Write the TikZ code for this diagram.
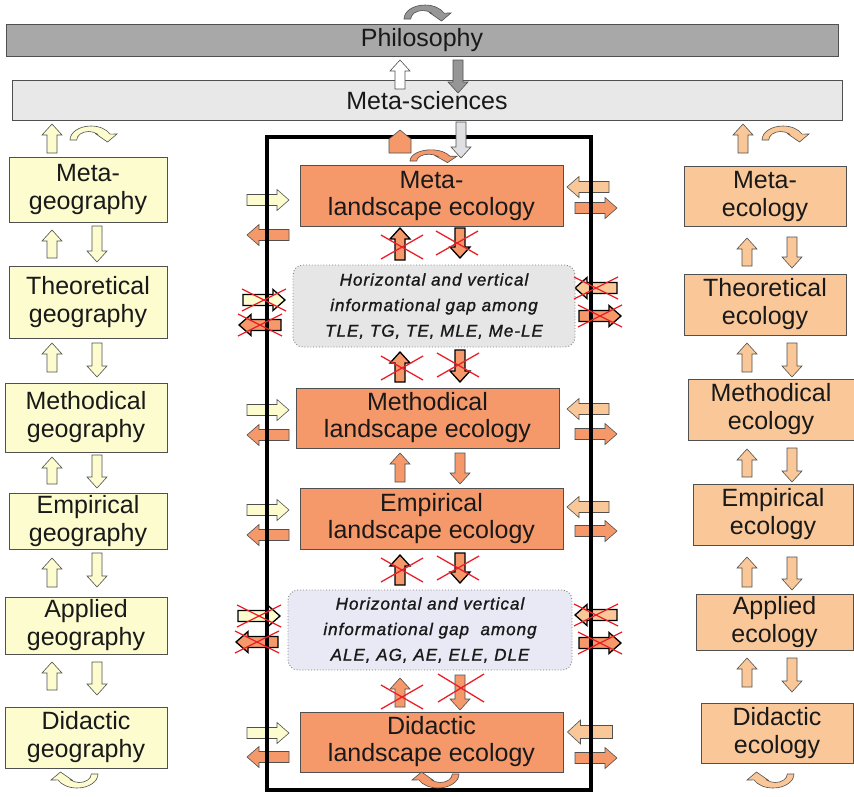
\documentclass[tikz,border=0pt]{standalone}
\usepackage{fontspec}
\setmainfont{Liberation Sans}
\newfontfamily\gapfont[LetterSpace=6,FakeBold=1.2]{Liberation Sans}
\definecolor{philgray}{RGB}{168,168,168}
\definecolor{metagray}{RGB}{232,232,232}
\definecolor{leorange}{RGB}{245,152,106}
\definecolor{geoyellow}{RGB}{252,252,206}
\definecolor{ecopeach}{RGB}{250,200,152}
\definecolor{gapgray}{RGB}{230,230,230}
\definecolor{gaplav}{RGB}{233,233,245}
\definecolor{edgegray}{RGB}{80,80,80}
\definecolor{txtcol}{RGB}{25,25,25}
\definecolor{crossred}{RGB}{236,30,40}
\definecolor{arrgray}{RGB}{150,150,150}
\definecolor{arrlight}{RGB}{224,224,228}
\newcommand\blockarr[8]{%
  \begin{scope}[shift={(#1,#2)},rotate=#3]
  \draw[#8] ({-(#4)/2},-#5) -- ({(#4)/2-(#7)},-#5) -- ({(#4)/2-(#7)},-#6) -- ({(#4)/2},0)
     -- ({(#4)/2-(#7)},#6) -- ({(#4)/2-(#7)},#5) -- ({-(#4)/2},#5) -- cycle;
  \end{scope}}
% vertical arrows: x, ytop, ybottom, angle, style
\newcommand\varr[5]{%
  \pgfmathsetmacro\arcy{(#2+#3)/2}\pgfmathsetmacro\arlen{#3-#2}%
  \blockarr{#1}{\arcy}{#4}{\arlen}{5}{10}{11}{#5}}
% horizontal arrows: xcenter, y, angle, style
\newcommand\harr[4]{\blockarr{#1}{#2}{#3}{42}{5.5}{10.5}{12}{#4}}
\newcommand\redx[4]{\draw[crossx] ({#1-#3},{#2-#4}) -- ({#1+#3},{#2+#4}) ({#1-#3},{#2+#4}) -- ({#1+#3},{#2-#4});}
% arch arrow: x, y (base centre), xscale, yscale, style
\newcommand\archarr[5]{%
  \begin{scope}[shift={(#1,#2)},x=1pt,y=1pt,xscale=#3,yscale=#4]
  \draw[#5] (-21,0) arc[start angle=180,end angle=25,x radius=21,y radius=14] -- (26,6) -- (16.5,-2) -- (5,6) -- (6.2,6)
     arc[start angle=45,end angle=180,x radius=12,y radius=8.5] -- cycle;
  \end{scope}}
\tikzset{
  box/.style={draw=edgegray, line width=0.9pt, inner sep=0pt, align=center, text=txtcol},
  lebox/.style={box, fill=leorange, font=\fontsize{25}{27}\selectfont},
  geobox/.style={box, fill=geoyellow, font=\fontsize{25}{28}\selectfont},
  ecobox/.style={box, fill=ecopeach, font=\fontsize{25}{28}\selectfont},
  wide/.style={box, font=\fontsize{25}{27}\selectfont},
  gapbox/.style={draw=gray, dotted, line width=0.9pt, rounded corners=10pt, inner sep=0pt, align=center, text=txtcol,
     font=\gapfont\itshape\fontsize{17}{25.5}\selectfont},
  aY/.style={draw=edgegray, line width=0.6pt, fill=geoyellow},
  aO/.style={draw=edgegray, line width=0.6pt, fill=leorange},
  aP/.style={draw=edgegray, line width=0.6pt, fill=ecopeach},
  aYx/.style={draw=black, line width=1.3pt, fill=geoyellow},
  aOx/.style={draw=black, line width=1.3pt, fill=leorange},
  aPx/.style={draw=black, line width=1.3pt, fill=ecopeach},
  crossx/.style={draw=crossred, line width=1.3pt},
  frame/.style={draw=black, line width=3.5pt}
}
\begin{document}
\begin{tikzpicture}[x=1pt,y=-1pt]
\useasboundingbox[fill=white] (0,0) rectangle (854,796);
% top
\node[wide, fill=philgray, minimum width=832pt, minimum height=32pt] (phil) at (422,40.5) {Philosophy};
\node[wide, fill=metagray, minimum width=830pt, minimum height=40pt] (meta) at (427,100.5) {Meta-sciences};
\archarr{425}{19}{1}{1}{draw=edgegray, line width=0.6pt, fill=arrgray}
\varr{400}{60}{89}{90}{draw=edgegray, line width=0.6pt, fill=white}
\varr{458}{60}{93}{270}{draw=edgegray, line width=0.6pt, fill=arrgray}

% left column
\node[geobox, minimum width=158pt, minimum height=65pt] (mg) at (88,189.5) {Meta-\\geography};
\node[geobox, minimum width=158pt, minimum height=72pt] (tg) at (88,302) {Theoretical\\geography};
\node[geobox, minimum width=162pt, minimum height=69pt] (methg) at (86,417.5) {Methodical\\geography};
\node[geobox, minimum width=158pt, minimum height=56pt] (eg) at (88,521) {Empirical\\geography};
\node[geobox, minimum width=162pt, minimum height=57pt] (ag) at (86,625.5) {Applied\\geography};
\node[geobox, minimum width=162pt, minimum height=61pt] (dg) at (86,737.5) {Didactic\\geography};
\varr{52}{124}{153}{90}{aY}
\archarr{91}{140}{1}{1}{aY}
\varr{52}{230}{258}{90}{aY}  \varr{97}{226}{262}{270}{aY}
\varr{52}{343}{372}{90}{aY}  \varr{97}{343}{377}{270}{aY}
\varr{52}{457}{484}{90}{aY}  \varr{97}{455}{488}{270}{aY}
\varr{52}{558}{587}{90}{aY}  \varr{97}{553}{587}{270}{aY}
\varr{52}{662}{690}{90}{aY}  \varr{97}{662}{695}{270}{aY}
\archarr{77}{774}{-1}{-1}{aY}

% right column
\node[ecobox, minimum width=162pt, minimum height=60pt] (me) at (765,196) {Meta-\\ecology};
\node[ecobox, minimum width=162pt, minimum height=61pt] (te) at (765,304.5) {Theoretical\\ecology};
\node[ecobox, minimum width=166pt, minimum height=61pt] (methe) at (771,409.5) {Methodical\\ecology};
\node[ecobox, minimum width=160pt, minimum height=61pt] (ee) at (773,514.5) {Empirical\\ecology};
\node[ecobox, minimum width=157pt, minimum height=56pt] (ae) at (774.5,622) {Applied\\ecology};
\node[ecobox, minimum width=152pt, minimum height=60pt] (de) at (777,733) {Didactic\\ecology};
\varr{743}{124}{153}{90}{aP}
\archarr{783}{140}{1}{1}{aP}
\varr{747}{238}{266}{90}{aP}  \varr{792}{237}{268}{270}{aP}
\varr{747}{343}{372}{90}{aP}  \varr{792}{343}{377}{270}{aP}
\varr{747}{449}{477}{90}{aP}  \varr{792}{448}{482}{270}{aP}
\varr{747}{557}{587}{90}{aP}  \varr{792}{557}{590}{270}{aP}
\varr{747}{658}{687}{90}{aP}  \varr{792}{658}{692}{270}{aP}
\archarr{773}{774}{-1}{-1}{aP}

% horizontal arrows at the frame, left side
\harr{268}{200}{0}{aY}   \harr{268}{235}{180}{aO}
\harr{264}{300}{0}{aYx}  \harr{260}{325}{180}{aOx}
\harr{268}{410}{0}{aY}   \harr{268}{435}{180}{aO}
\harr{268}{510}{0}{aY}   \harr{268}{535}{180}{aO}
\harr{259}{616}{0}{aYx}  \harr{257}{642}{180}{aOx}
\harr{268}{733}{0}{aY}   \harr{268}{757}{180}{aO}
% right side
\harr{588}{187}{180}{aP}  \harr{596}{208}{0}{aO}
\harr{596}{288}{180}{aPx} \harr{600}{316}{0}{aOx}
\harr{588}{409}{180}{aP}  \harr{596}{434}{0}{aO}
\harr{588}{507}{180}{aP}  \harr{596}{531}{0}{aO}
\harr{596}{615}{180}{aPx} \harr{600}{643}{0}{aOx}
\blockarr{590}{732}{180}{45}{6.5}{12}{13}{aP}
\harr{596}{758}{0}{aO}

% frame
\draw[frame] (267,137) rectangle (591,790);

% centre column
\node[lebox, minimum width=263pt, minimum height=61pt] (mle) at (431.5,195.5) {Meta-\\landscape ecology};
\node[gapbox, fill=gapgray, minimum width=282pt, minimum height=82pt] (gap1) at (434,306)
  {Horizontal and vertical\\informational gap among\\TLE, TG, TE, MLE, Me-LE};
\node[lebox, minimum width=263pt, minimum height=60pt] (methle) at (427.5,418) {Methodical\\landscape ecology};
\node[lebox, minimum width=263pt, minimum height=61pt] (ele) at (431.5,518.5) {Empirical\\landscape ecology};
\node[gapbox, fill=gaplav, minimum width=284pt, minimum height=80pt] (gap2) at (430,630)
  {Horizontal and vertical\\informational gap\ \ among\\ALE, AG, AE, ELE, DLE};
\node[lebox, minimum width=263pt, minimum height=60pt] (dle) at (431.5,742) {Didactic\\landscape ecology};

% top of centre column
\draw[draw=edgegray, line width=0.6pt, fill=leorange] (389,153) -- (389,139) -- (400,130) -- (411,139) -- (411,153) -- cycle;
\varr{461}{122}{158}{270}{draw=edgegray, line width=0.6pt, fill=arrlight}
\archarr{431}{161}{1}{0.8}{aO}

% vertical arrows in centre
\varr{400}{228}{260}{90}{aOx}  \varr{460}{228}{258}{270}{aOx}
\redx{402}{247}{21}{12} \redx{457}{243}{21}{12}
\varr{400}{352}{382}{90}{aOx}  \varr{460}{350}{382}{270}{aOx}
\redx{402}{368}{21}{12} \redx{458}{365}{21}{12}
\varr{400}{453}{482}{90}{aO}   \varr{460}{453}{484}{270}{aO}
\varr{400}{555}{585}{90}{aOx}  \varr{460}{553}{583}{270}{aOx}
\redx{402}{570}{21}{12} \redx{458}{568}{21}{12}
\varr{400}{678}{707}{90}{aO}   \varr{460}{675}{710}{270}{aO}
\redx{402}{697}{21}{12} \redx{461}{688}{23}{14}
\archarr{438}{774}{-1}{-1}{aO}

% crosses on horizontal arrows
\redx{264}{300}{22}{11} \redx{260}{325}{22}{11}
\redx{259}{616}{22}{11} \redx{257}{642}{22}{11}
\redx{596}{288}{22}{11} \redx{600}{316}{22}{11}
\redx{596}{615}{22}{11} \redx{600}{643}{22}{11}
\end{tikzpicture}
\end{document}
